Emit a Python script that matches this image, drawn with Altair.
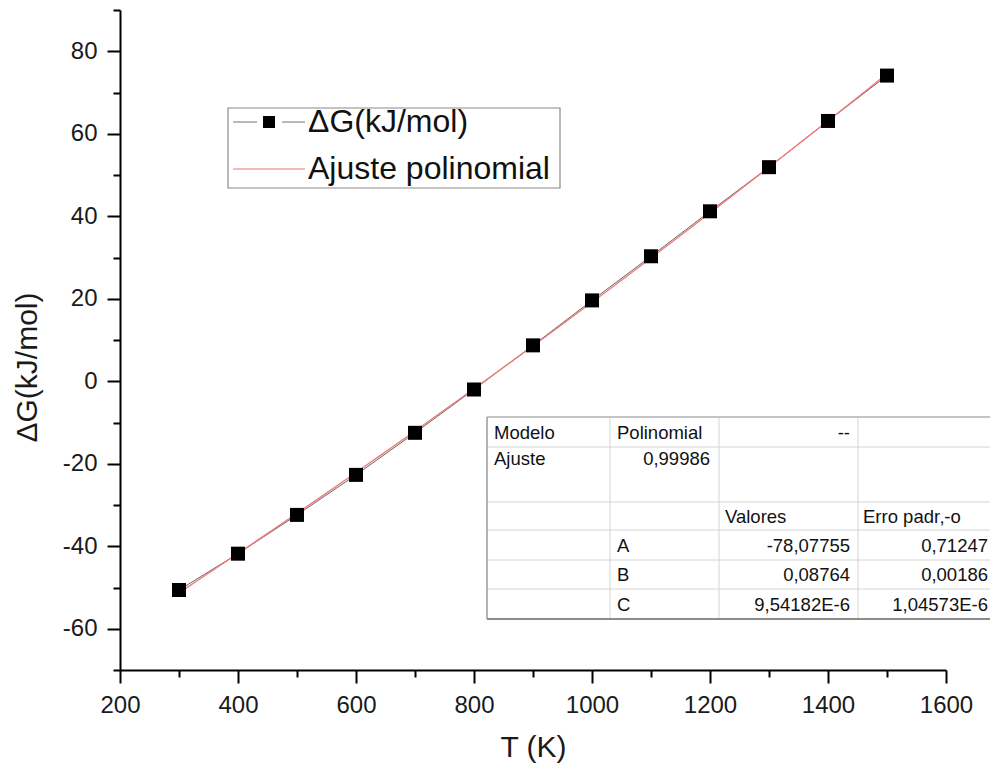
import altair as alt
import pandas as pd

FONT = "Liberation Sans, Arial, Helvetica, sans-serif"

# ---- data ----
T = [300, 400, 500, 600, 700, 800, 900, 1000, 1100, 1200, 1300, 1400, 1500]
dG = [-50.6, -41.8, -32.4, -22.7, -12.5, -2.0, 8.7, 19.6, 30.3, 41.2, 51.9, 63.1, 74.1]

x_ticks = list(range(200, 1601, 100))
y_ticks = list(range(-70, 91, 10))

legend_labels = ["\u0394G(kJ/mol)", "Ajuste polinomial"]

model_row = ["Modelo", "Polinomial", "--"]
fit_row = ["Ajuste", "0,99986"]
header_row = ["Valores", "Erro padr\u201a-o"]
params = ["A", "B", "C"]
values = ["-78,07755", "0,08764", "9,54182E-6"]
errors = ["0,71247", "0,00186", "1,04573E-6"]

df = pd.DataFrame({"T": T, "dG": dG})
one = pd.DataFrame({"k": [0]})

W, H = 826, 660

xenc = alt.X("T:Q", scale=alt.Scale(domain=[200, 1600], nice=False, zero=False),
             axis=alt.Axis(values=x_ticks, title="T (K)",
                           labelExpr="datum.value % 200 === 0 ? '' + datum.value : ''",
                           tickSize={"condition": {"test": "datum.value % 200 === 0", "value": 13}, "value": 7},
                           labelPadding=10, labelFlush=False, labelOverlap=False,
                           titleY=86, titleBaseline="alphabetic"))
yenc = alt.Y("dG:Q", scale=alt.Scale(domain=[-70, 90], nice=False, zero=False),
             axis=alt.Axis(values=y_ticks, title="\u0394G(kJ/mol)",
                           labelExpr="datum.value % 20 === 0 ? '' + datum.value : ''",
                           tickSize={"condition": {"test": "datum.value % 20 === 0", "value": 13}, "value": 7},
                           labelPadding=10, labelFlush=False, labelOverlap=False,
                           titleX=-84, titleY=357, titleBaseline="alphabetic",
                           titleAngle=270))

base = alt.Chart(df)
data_line = base.mark_line(color="#666666", strokeWidth=1).encode(x=xenc, y=yenc)
fit_line = base.transform_regression("T", "dG", method="poly", order=2).mark_line(
    color="#f07878", strokeWidth=1.3).encode(x="T:Q", y="dG:Q")
points = base.mark_point(shape="square", filled=True, size=196, color="black", opacity=1).encode(
    x="T:Q", y="dG:Q")


def txt(s, x, y, size, align="left", baseline="alphabetic", color="#111111"):
    return alt.Chart(one).mark_text(text=s, align=align, baseline=baseline, fontSize=size,
                                    color=color, font=FONT).encode(x=alt.value(x), y=alt.value(y))


def hrule(x1, x2, y, color, w):
    return alt.Chart(one).mark_rule(color=color, strokeWidth=w).encode(
        x=alt.value(x1), x2=alt.value(x2), y=alt.value(y))


def vrule(x, y1, y2, color, w):
    return alt.Chart(one).mark_rule(color=color, strokeWidth=w).encode(
        x=alt.value(x), y=alt.value(y1), y2=alt.value(y2))


def box(x1, x2, y1, y2, stroke, w):
    return alt.Chart(one).mark_rect(fill="white", stroke=stroke, strokeWidth=w).encode(
        x=alt.value(x1), x2=alt.value(x2), y=alt.value(y1), y2=alt.value(y2))


layers = [data_line, fit_line, points]

# ---- legend ----
layers += [
    box(108, 440, 98, 178, "#8a8a8a", 1.2),
    hrule(113, 137, 112, "#8a8a8a", 1.2),
    hrule(162, 185, 112, "#8a8a8a", 1.2),
    alt.Chart(one).mark_point(shape="square", filled=True, size=144, color="black", opacity=1).encode(
        x=alt.value(149), y=alt.value(112)),
    hrule(113, 185, 159, "#f4a0a0", 1.5),
    txt(legend_labels[0], 188, 122, 32),
    txt(legend_labels[1], 188, 169, 32),
]

# ---- table ----
L, C1, C2, C3, R = 367, 490, 599, 738, 880
rows = [407, 437, 492, 520, 550, 579, 609]
inner = "#d4d4d4"
layers += [box(L, R, rows[0], rows[-1], "white", 0)]
for yy in rows[1:-1]:
    layers.append(hrule(L, R, yy, inner, 1))
for xx in (C1, C2, C3):
    layers.append(vrule(xx, rows[0], rows[-1], inner, 1))
layers += [
    hrule(L, R, rows[0], "#b0b0b0", 1.5),
    hrule(L, R, rows[-1], "#8c8c8c", 2),
    vrule(L, rows[0], rows[-1], "#9a9a9a", 1.5),
]
FS = 18.5
layers += [
    txt(model_row[0], 374, 429, FS),
    txt(model_row[1], 497, 429, FS),
    txt(model_row[2], 730, 429, FS, align="right"),
    txt(fit_row[0], 374, 455, FS),
    txt(fit_row[1], 590, 455, FS, align="right"),
    txt(header_row[0], 605, 513, FS),
    txt(header_row[1], 743, 513, FS),
]
row_base = [542, 571, 601]
for p, v, e, yb in zip(params, values, errors, row_base):
    layers += [
        txt(p, 497, yb, FS),
        txt(v, 730, yb, FS, align="right"),
        txt(e, 868, yb, FS, align="right"),
    ]

chart = alt.layer(*layers).properties(
    width=W, height=H,
    padding={"left": 112, "top": 2, "right": 44, "bottom": 93},
    autosize=alt.AutoSizeParams(type="none"),
).configure(font=FONT).configure_view(stroke=None).configure_axis(
    grid=False, domainColor="black", domainWidth=2, tickColor="black", tickWidth=2,
    labelFontSize=24, labelColor="#1a1a1a", labelFont=FONT,
    titleFontSize=30, titleFontWeight="normal", titleColor="#1a1a1a", titleFont=FONT,
)

chart.save("out.html", embed_options={"renderer": "svg", "actions": False})
